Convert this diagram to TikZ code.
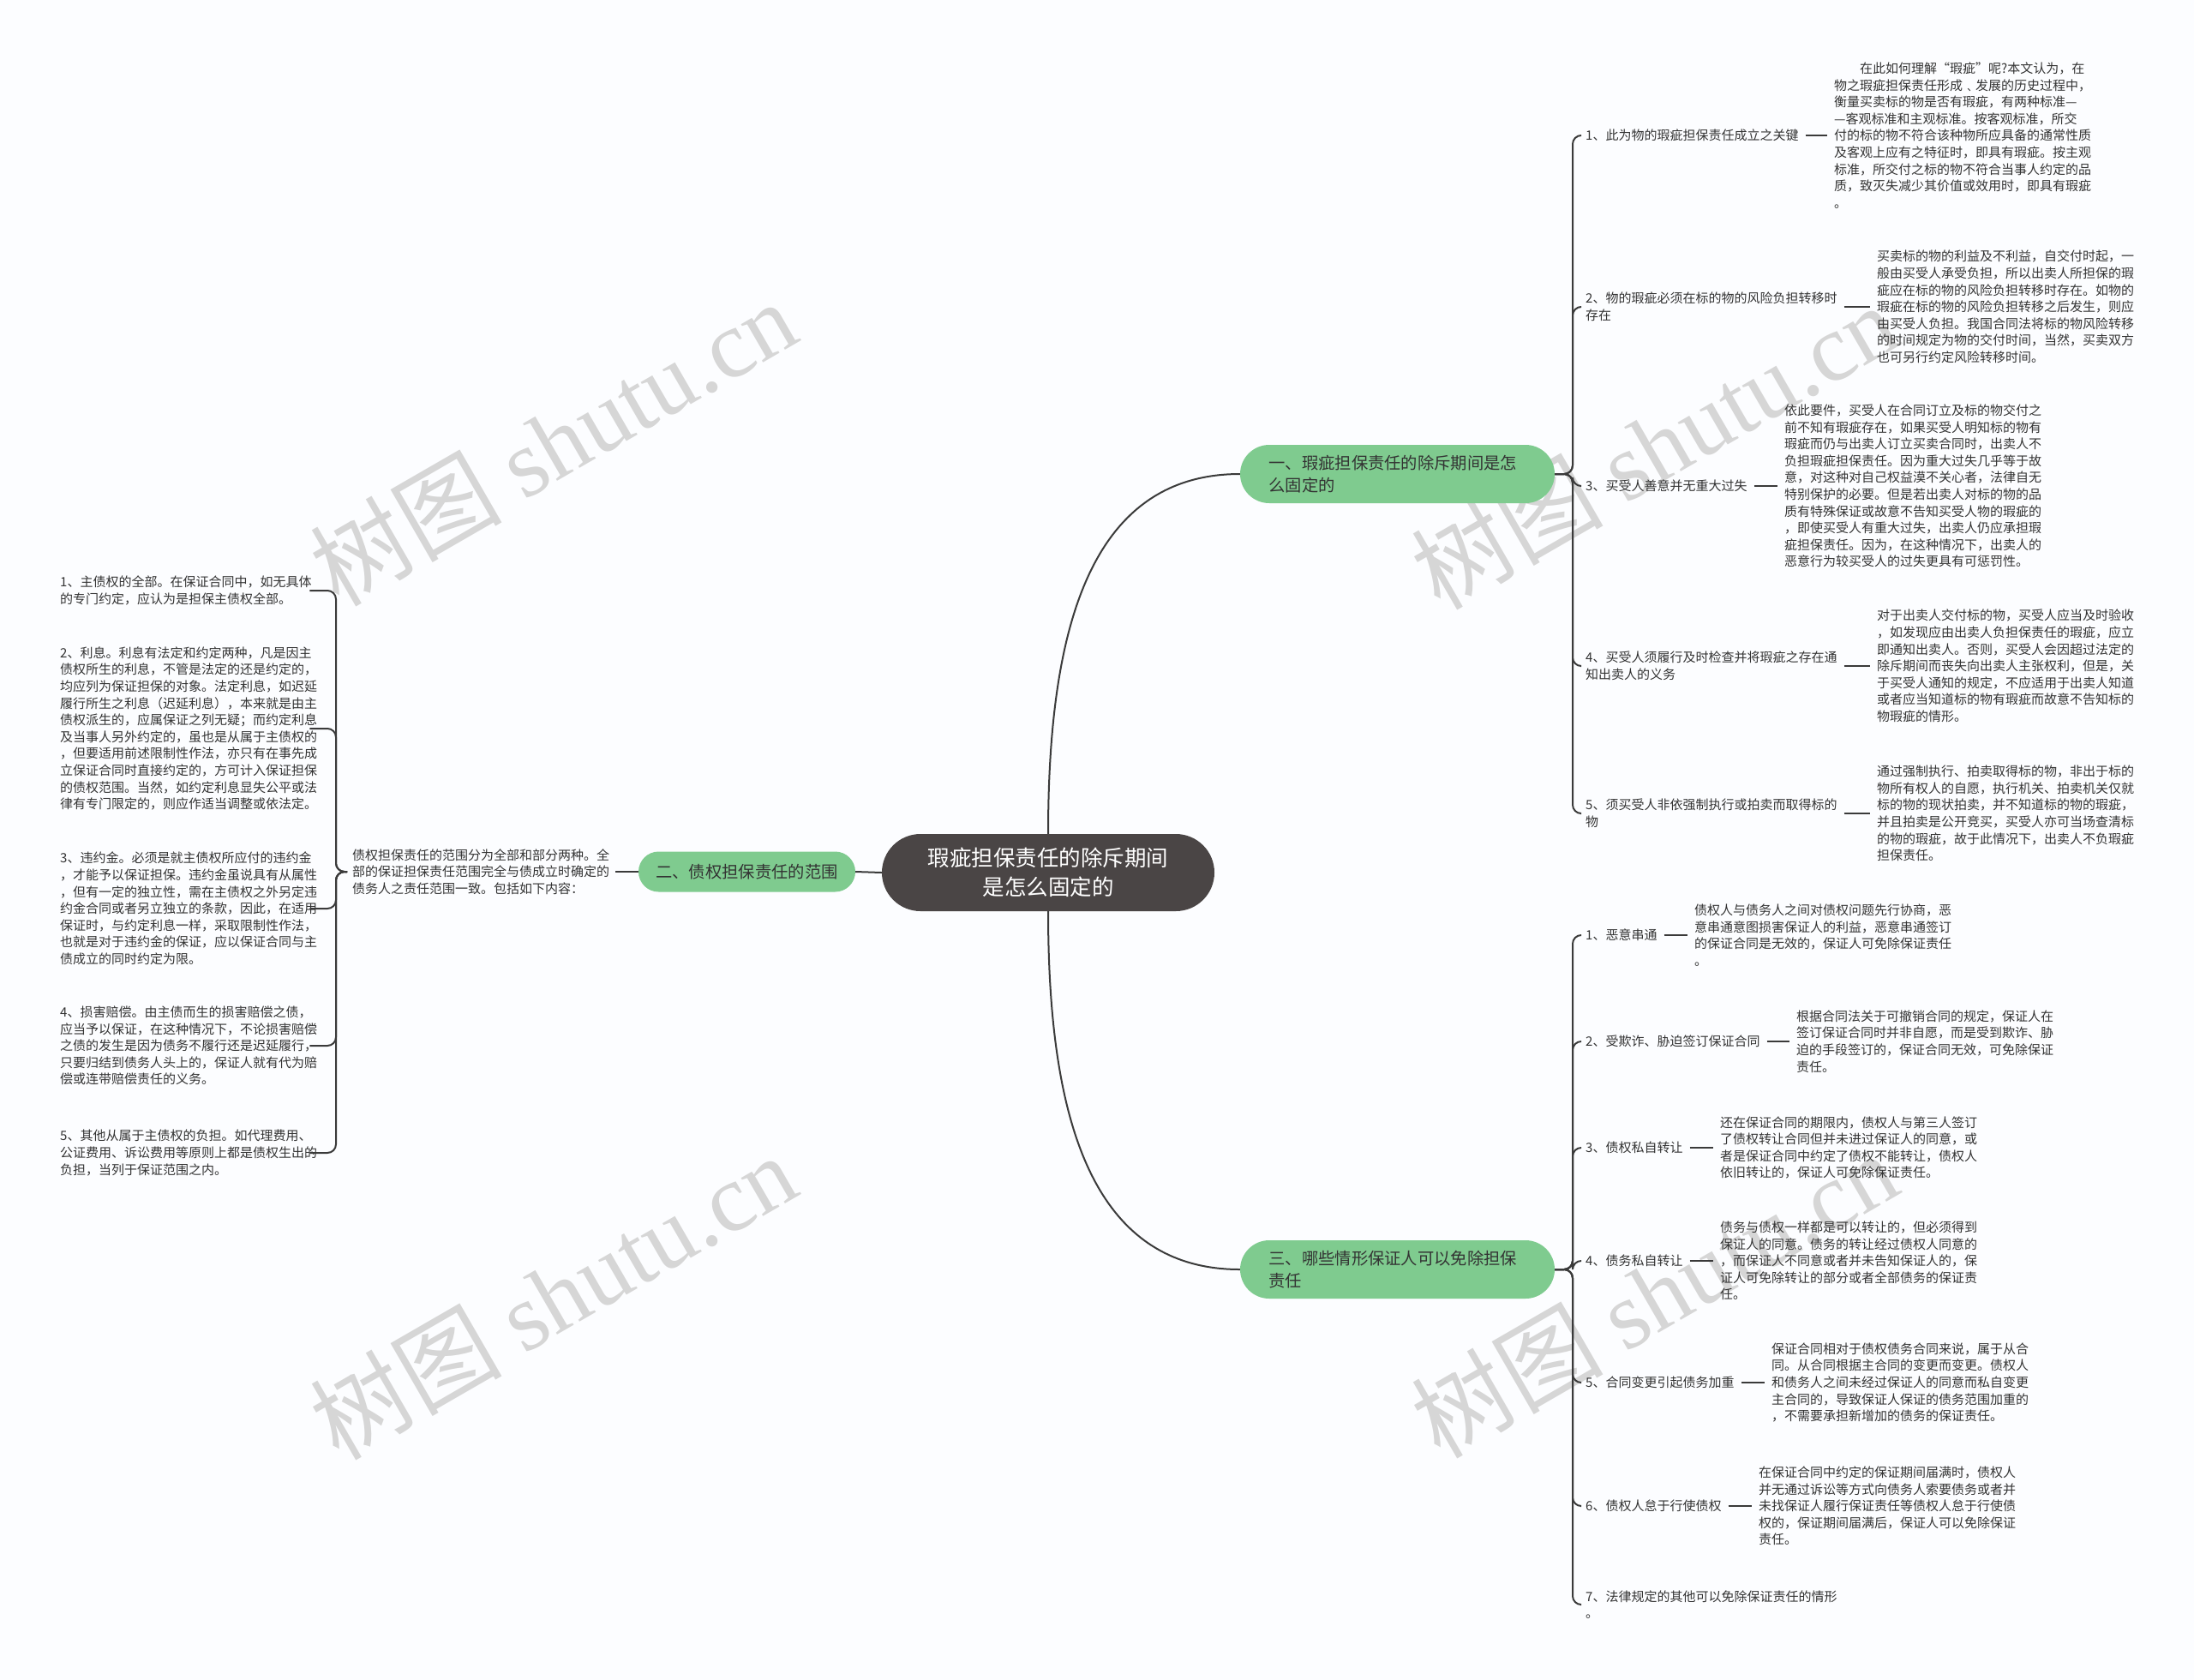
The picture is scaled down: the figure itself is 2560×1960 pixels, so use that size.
\documentclass[tikz,border=0pt]{standalone}
\usepackage{fontspec}
\setmainfont{Noto Sans CJK SC}
\newfontfamily\wmlatin{Liberation Serif}
\definecolor{bgc}{HTML}{FCFDFF}
\definecolor{linec}{HTML}{3A3A3A}
\definecolor{txtc}{HTML}{333333}
\definecolor{rootc}{HTML}{4A4545}
\definecolor{greenc}{HTML}{7FCB8F}
\definecolor{wmc}{HTML}{D6D6D6}
\begin{document}
\begin{tikzpicture}[x=1pt,y=-1pt,
  conn/.style={draw=linec, line width=2pt},
  elbow/.style={conn, rounded corners=10pt},
  txt/.style={font=\fontsize{15}{19.6}\selectfont, text=txtc, inner sep=0pt, align=left, anchor=west},
  lefttxt/.style={txt, text width=300pt},
  rootnode/.style={fill=rootc, text=white, rounded corners=45pt, minimum width=388pt, minimum height=90pt, inner sep=0pt, align=center, font=\fontsize{25.5}{34}\selectfont},
  branchnode/.style={fill=greenc, text=txtc, rounded corners=34pt, minimum height=68pt, inner xsep=33.5pt, inner ysep=0pt, text width=300pt, align=left, font=\fontsize{19.3}{26}\selectfont},
  smallbranch/.style={fill=greenc, text=txtc, rounded corners=23.5pt, minimum width=253pt, minimum height=47pt, inner sep=0pt, align=center, font=\fontsize{19.3}{26}\selectfont},
  wm/.style={text=wmc, rotate=30, font=\fontsize{112}{112}\selectfont, inner sep=0pt}
]
\useasboundingbox (0,0) rectangle (2560,1960);
\fill[bgc] (0,0) rectangle (2560,1960);

% watermarks
\node[wm] (w1) at (645,516) {树图 {\wmlatin shutu.cn}};
\node[wm] (w2) at (645,1512) {树图 {\wmlatin shutu.cn}};
\node[wm] (w3) at (1930,520) {树图 {\wmlatin shutu.cn}};
\node[wm] (w4) at (1930,1510) {树图 {\wmlatin shutu.cn}};

% root and branches
\node[rootnode] (root) at (1223,1018) {瑕疵担保责任的除斥期间\\是怎么固定的};
\node[branchnode] (b1) at (1630.5,553) {一、瑕疵担保责任的除斥期间是怎\\么固定的};
\node[branchnode] (b3) at (1630.5,1481) {三、哪些情形保证人可以免除担保\\责任};
\node[smallbranch] (b2) at (871.5,1017) {二、债权担保责任的范围};

% top group labels
\node[txt] (r1) at (1850,158) {1、此为物的瑕疵担保责任成立之关键};
\node[txt] (r2) at (1850,358) {2、物的瑕疵必须在标的物的风险负担转移时\\存在};
\node[txt] (r3) at (1850,567) {3、买受人善意并无重大过失};
\node[txt] (r4) at (1850,777) {4、买受人须履行及时检查并将瑕疵之存在通\\知出卖人的义务};
\node[txt] (r5) at (1850,949) {5、须买受人非依强制执行或拍卖而取得标的\\物};

% top group details
\node[txt] (r1d) at (2140,158) {\hspace*{2em}在此如何理解“瑕疵”呢?本文认为，在\\物之瑕疵担保责任形成﹑发展的历史过程中，\\衡量买卖标的物是否有瑕疵，有两种标准—\\—客观标准和主观标准。按客观标准，所交\\付的标的物不符合该种物所应具备的通常性质\\及客观上应有之特征时，即具有瑕疵。按主观\\标准，所交付之标的物不符合当事人约定的品\\质，致灭失减少其价值或效用时，即具有瑕疵\\。};
\node[txt] (r2d) at (2190,358) {买卖标的物的利益及不利益，自交付时起，一\\般由买受人承受负担，所以出卖人所担保的瑕\\疵应在标的物的风险负担转移时存在。如物的\\瑕疵在标的物的风险负担转移之后发生，则应\\由买受人负担。我国合同法将标的物风险转移\\的时间规定为物的交付时间，当然，买卖双方\\也可另行约定风险转移时间。};
\node[txt] (r3d) at (2082,567) {依此要件，买受人在合同订立及标的物交付之\\前不知有瑕疵存在，如果买受人明知标的物有\\瑕疵而仍与出卖人订立买卖合同时，出卖人不\\负担瑕疵担保责任。因为重大过失几乎等于故\\意，对这种对自己权益漠不关心者，法律自无\\特别保护的必要。但是若出卖人对标的物的品\\质有特殊保证或故意不告知买受人物的瑕疵的\\，即使买受人有重大过失，出卖人仍应承担瑕\\疵担保责任。因为，在这种情况下，出卖人的\\恶意行为较买受人的过失更具有可惩罚性。};
\node[txt] (r4d) at (2190,777) {对于出卖人交付标的物，买受人应当及时验收\\，如发现应由出卖人负担保责任的瑕疵，应立\\即通知出卖人。否则，买受人会因超过法定的\\除斥期间而丧失向出卖人主张权利，但是，关\\于买受人通知的规定，不应适用于出卖人知道\\或者应当知道标的物有瑕疵而故意不告知标的\\物瑕疵的情形。};
\node[txt] (r5d) at (2190,949) {通过强制执行、拍卖取得标的物，非出于标的\\物所有权人的自愿，执行机关、拍卖机关仅就\\标的物的现状拍卖，并不知道标的物的瑕疵，\\并且拍卖是公开竞买，买受人亦可当场查清标\\的物的瑕疵，故于此情况下，出卖人不负瑕疵\\担保责任。};

% bottom group labels
\node[txt] (s1) at (1850,1091) {1、恶意串通};
\node[txt] (s2) at (1850,1215) {2、受欺诈、胁迫签订保证合同};
\node[txt] (s3) at (1850,1339) {3、债权私自转让};
\node[txt] (s4) at (1850,1471) {4、债务私自转让};
\node[txt] (s5) at (1850,1613) {5、合同变更引起债务加重};
\node[txt] (s6) at (1850,1757) {6、债权人怠于行使债权};
\node[txt] (s7) at (1850,1872) {7、法律规定的其他可以免除保证责任的情形\\。};

% bottom group details
\node[txt] (s1d) at (1977,1091) {债权人与债务人之间对债权问题先行协商，恶\\意串通意图损害保证人的利益，恶意串通签订\\的保证合同是无效的，保证人可免除保证责任\\。};
\node[txt] (s2d) at (2096,1215) {根据合同法关于可撤销合同的规定，保证人在\\签订保证合同时并非自愿，而是受到欺诈、胁\\迫的手段签订的，保证合同无效，可免除保证\\责任。};
\node[txt] (s3d) at (2007,1339) {还在保证合同的期限内，债权人与第三人签订\\了债权转让合同但并未进过保证人的同意，或\\者是保证合同中约定了债权不能转让，债权人\\依旧转让的，保证人可免除保证责任。};
\node[txt] (s4d) at (2007,1471) {债务与债权一样都是可以转让的，但必须得到\\保证人的同意。债务的转让经过债权人同意的\\，而保证人不同意或者并未告知保证人的，保\\证人可免除转让的部分或者全部债务的保证责\\任。};
\node[txt] (s5d) at (2067,1613) {保证合同相对于债权债务合同来说，属于从合\\同。从合同根据主合同的变更而变更。债权人\\和债务人之间未经过保证人的同意而私自变更\\主合同的，导致保证人保证的债务范围加重的\\，不需要承担新增加的债务的保证责任。};
\node[txt] (s6d) at (2052,1757) {在保证合同中约定的保证期间届满时，债权人\\并无通过诉讼等方式向债务人索要债务或者并\\未找保证人履行保证责任等债权人怠于行使债\\权的，保证期间届满后，保证人可以免除保证\\责任。};

% left group
\node[lefttxt] (intro) at (411,1017) {债权担保责任的范围分为全部和部分两种。全\\部的保证担保责任范围完全与债成立时确定的\\债务人之责任范围一致。包括如下内容：};
\node[lefttxt] (l1) at (70,689) {1、主债权的全部。在保证合同中，如无具体\\的专门约定，应认为是担保主债权全部。};
\node[lefttxt] (l2) at (70,850) {2、利息。利息有法定和约定两种，凡是因主\\债权所生的利息，不管是法定的还是约定的，\\均应列为保证担保的对象。法定利息，如迟延\\履行所生之利息（迟延利息），本来就是由主\\债权派生的，应属保证之列无疑；而约定利息\\及当事人另外约定的，虽也是从属于主债权的\\，但要适用前述限制性作法，亦只有在事先成\\立保证合同时直接约定的，方可计入保证担保\\的债权范围。当然，如约定利息显失公平或法\\律有专门限定的，则应作适当调整或依法定。};
\node[lefttxt] (l3) at (70,1060) {3、违约金。必须是就主债权所应付的违约金\\，才能予以保证担保。违约金虽说具有从属性\\，但有一定的独立性，需在主债权之外另定违\\约金合同或者另立独立的条款，因此，在适用\\保证时，与约定利息一样，采取限制性作法，\\也就是对于违约金的保证，应以保证合同与主\\债成立的同时约定为限。};
\node[lefttxt] (l4) at (70,1220) {4、损害赔偿。由主债而生的损害赔偿之债，\\应当予以保证，在这种情况下，不论损害赔偿\\之债的发生是因为债务不履行还是迟延履行，\\只要归结到债务人头上的，保证人就有代为赔\\偿或连带赔偿责任的义务。};
\node[lefttxt] (l5) at (70,1345) {5、其他从属于主债权的负担。如代理费用、\\公证费用、诉讼费用等原则上都是债权生出的\\负担，当列于保证范围之内。};

% spine coordinates
\coordinate (spT) at (1835,553);
\coordinate (spB) at (1835,1481);
\coordinate (spL) at (392,1017);

% root connectors
\draw[conn] (root.north) .. controls (1223,742) and (1268,553) .. (b1.west);
\draw[conn] (root.south) .. controls (1223,1293) and (1268,1481) .. (b3.west);
\draw[conn] (root.west) -- (b2.east);
\draw[conn, shorten >=7pt] (b2.west) -- (intro.east);

% top spine
\foreach \n in {r1,r2,r3,r4,r5}{
  \draw[elbow, shorten >=6pt] (b1.east) -- (spT) |- (\n.west);
}
\foreach \n in {r1,r2,r3,r4,r5}{
  \draw[conn, shorten <=8pt, shorten >=8pt] (\n.east) -- (\n d.west);
}
% bottom spine
\foreach \n in {s1,s2,s3,s4,s5,s6,s7}{
  \draw[elbow, shorten >=6pt] (b3.east) -- (spB) |- (\n.west);
}
\foreach \n in {s1,s2,s3,s4,s5,s6}{
  \draw[conn, shorten <=8pt, shorten >=8pt] (\n.east) -- (\n d.west);
}
% left spine
\foreach \n in {l1,l2,l3,l4,l5}{
  \draw[elbow, shorten <=6pt, shorten >=-9pt] (intro.west) -- (spL) |- (\n.east);
}
\end{tikzpicture}
\end{document}
